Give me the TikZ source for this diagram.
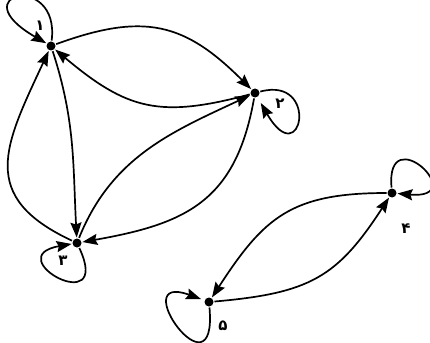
\documentclass[tikz,border=0pt]{standalone}
\usepackage{fontspec}
\newfontfamily\arabicfont[Script=Arabic]{DejaVu Sans}
\TeXXeTstate=1
\usetikzlibrary{arrows.meta}
\begin{document}
\begin{tikzpicture}[x=1pt,y=1pt,
  vtx/.style={circle,fill=black,inner sep=0pt,minimum size=9pt,outer sep=1pt},
  lbl/.style={font=\arabicfont\bfseries\fontsize{15}{15}\selectfont,inner sep=0pt},
  edge/.style={line width=1.7pt,-{Stealth[length=15pt,width=11pt,inset=2pt]}}]
\useasboundingbox (0,0) rectangle (430,-342);
\node[vtx] (n1) at (51,-46) {};
\node[vtx] (n2) at (255,-93) {};
\node[vtx] (n3) at (77,-243) {};
\node[vtx] (n4) at (392,-193) {};
\node[vtx] (n5) at (209,-302) {};
\node[lbl] (l1) at (40,-26) {\beginR ۱\endR};
\node[lbl] (l2) at (280,-104) {\beginR ۲\endR};
\node[lbl] (l3) at (63,-261) {\beginR ۳\endR};
\node[lbl] (l4) at (406,-229) {\beginR ۴\endR};
\node[lbl] (l5) at (223,-326) {\beginR ۵\endR};
% edges between 1, 2, 3
\draw[edge] (n1) to[out=20,in=135,looseness=1.2] (n2);
\draw[edge] (n2) to[out=195,in=-40,looseness=1.2] (n1);
\draw[edge] (n3) to[out=155,in=-115,looseness=1.4] (n1);
\draw[edge] (n1) to[out=-72,in=93] (n3);
\draw[edge] (n3) to[out=68,in=205] (n2);
\draw[edge] (n2) to[out=-100,in=10,looseness=1.2] (n3);
% edges between 4, 5
\draw[edge] (n4) to[out=180,in=57,looseness=1.2] (n5);
\draw[edge] (n5) to[out=5,in=237,looseness=1.2] (n4);
% loops
\draw[edge] (n1) to[out=83,in=150,out distance=70pt,in distance=100pt] (n1);
\draw[edge,shorten >=6pt] (n2) to[out=15,in=-60,out distance=62pt,in distance=88pt] (n2);
\draw[edge] (n3) to[out=-65,in=190,out distance=80pt,in distance=75pt] (n3);
\draw[edge] (n4) to[out=95,in=-5,out distance=70pt,in distance=75pt] (n4);
\draw[edge,shorten >=3pt] (n5) to[out=-85,in=160,out distance=95pt,in distance=85pt] (n5);
\end{tikzpicture}
\end{document}
